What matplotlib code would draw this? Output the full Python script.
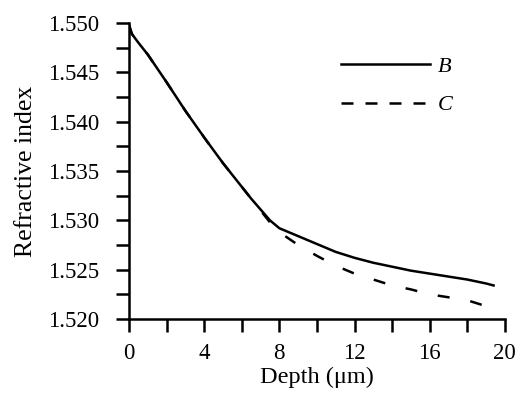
import matplotlib
matplotlib.use('Agg')
import matplotlib.pyplot as plt
from matplotlib.lines import Line2D
from matplotlib.ticker import MultipleLocator

plt.rcParams['font.family'] = ['Liberation Serif', 'DejaVu Serif']

# Data
depth_b = [0.0, 0.15, 0.5, 1.0, 2.0, 3.0, 4.0, 5.0, 5.5, 6.0, 6.5, 7.0, 7.5, 8.0, 9.0,
           10.0, 11.0, 12.0, 13.0, 14.0, 15.0, 16.0, 17.0, 18.0, 19.0, 19.4]
index_b = [1.5498, 1.5489, 1.5480, 1.5468, 1.5440, 1.5411, 1.5384, 1.5358, 1.5346,
           1.5334, 1.5322, 1.5311, 1.5300, 1.5292, 1.5284, 1.5276, 1.5268, 1.5262,
           1.5257, 1.5253, 1.5249, 1.5246, 1.5243, 1.5240, 1.5236, 1.5234]

depth_c = [0.0, 0.15, 0.5, 1.0, 2.0, 3.0, 4.0, 5.0, 5.5, 6.0, 6.5, 7.0, 7.5, 8.0, 9.0,
           10.0, 11.0, 12.0, 13.0, 14.0, 15.0, 16.0, 17.0, 18.0, 19.0]
index_c = [1.5498, 1.5489, 1.5480, 1.5468, 1.5440, 1.5411, 1.5384, 1.5358, 1.5346,
           1.5334, 1.5322, 1.5310, 1.5298, 1.5288, 1.5275, 1.5264, 1.5254, 1.5246,
           1.5240, 1.5234, 1.5230, 1.5225, 1.5222, 1.5219, 1.5213]

x_ticks = [0, 4, 8, 12, 16, 20]
y_ticks = [1.520, 1.525, 1.530, 1.535, 1.540, 1.545, 1.550]

fig = plt.figure(figsize=(5.21, 3.93), dpi=100)
ax = fig.add_axes([0.2476, 0.1883, 0.7214, 0.7532])

ax.plot(depth_b, index_b, color='black', lw=1.8)
ax.plot(depth_c, index_c, color='black', lw=1.8, dashes=(4.8, 8.4))

ax.set_xlim(0, 20)
ax.set_ylim(1.520, 1.550)
ax.set_xticks(x_ticks)
ax.set_xticklabels([str(t) for t in x_ticks])
ax.set_yticks(y_ticks)
ax.set_yticklabels([f'{t:.3f}' for t in y_ticks])
ax.xaxis.set_minor_locator(MultipleLocator(2))
ax.yaxis.set_minor_locator(MultipleLocator(0.0025))

for s in ['top', 'right']:
    ax.spines[s].set_visible(False)
for s in ['left', 'bottom']:
    ax.spines[s].set_linewidth(1.8)

ax.tick_params(which='both', direction='out', length=9.5, width=1.8, labelsize=16.5)
ax.tick_params(axis='y', pad=12)
ax.tick_params(axis='x', pad=8)

ax.set_xlabel('Depth (\u03bcm)', fontsize=17.5, labelpad=2)
ax.set_ylabel('Refractive index', fontsize=18.5, labelpad=8)

handles = [Line2D([], [], color='black', lw=1.8),
           Line2D([], [], color='black', lw=1.8, dashes=(4.8, 4.8))]
ax.legend(handles, ['B', 'C'], loc='upper left', bbox_to_anchor=(0.564, 0.888),
          frameon=False, borderpad=0, borderaxespad=0, handlelength=4.0,
          handletextpad=0.35, labelspacing=0.82,
          prop={'family': 'Liberation Serif', 'style': 'italic', 'size': 16})

fig.savefig('out.png', dpi=100)
